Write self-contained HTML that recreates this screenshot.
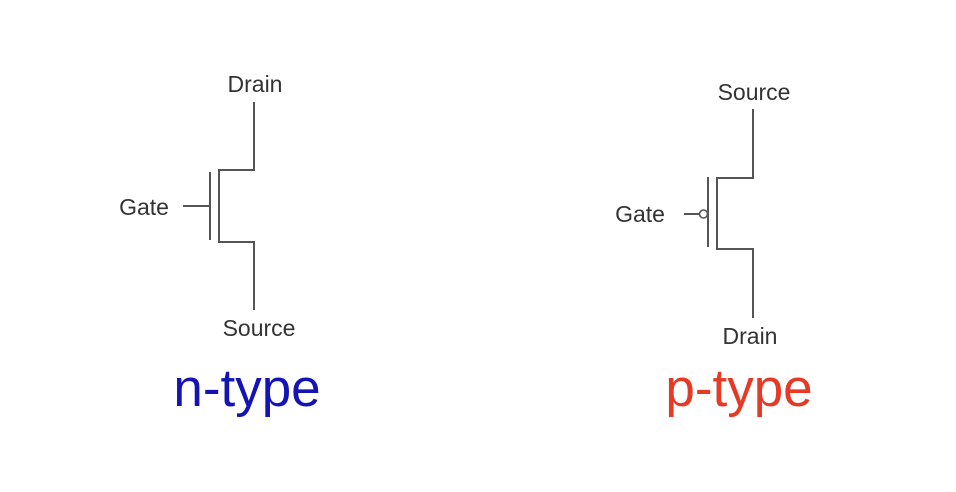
<!DOCTYPE html>
<html><head><style>
html,body{margin:0;padding:0;background:#fff;}
</style></head><body>
<svg width="956" height="492" viewBox="0 0 956 492" xmlns="http://www.w3.org/2000/svg" style="display:block">
<rect width="956" height="492" fill="#fff"/>
<g stroke="#555" stroke-width="2" fill="none">
<polyline points="254,102 254,170 219,170 219,242 254,242 254,310"/>
<line x1="210" y1="172" x2="210" y2="240"/>
<line x1="183" y1="206" x2="210" y2="206"/>
<polyline points="753,109 753,178 717,178 717,249 753,249 753,318"/>
<line x1="708" y1="177" x2="708" y2="247"/>
<line x1="684" y1="214" x2="699" y2="214"/>
<circle cx="703.5" cy="214" r="4" stroke-width="1.6"/>
</g>
<g font-family="Liberation Sans, sans-serif" font-size="23" fill="#333">
<text x="255" y="92" text-anchor="middle">Drain</text>
<text x="144" y="215" text-anchor="middle">Gate</text>
<text x="259" y="336" text-anchor="middle">Source</text>
<text x="754" y="100" text-anchor="middle">Source</text>
<text x="640" y="222" text-anchor="middle">Gate</text>
<text x="750" y="344" text-anchor="middle">Drain</text>
</g>
<text x="247" y="406" text-anchor="middle" font-family="Liberation Sans, sans-serif" font-size="53" fill="#1414b4">n-type</text>
<text x="739" y="406" text-anchor="middle" font-family="Liberation Sans, sans-serif" font-size="53" fill="#e53a25">p-type</text>
</svg>
</body></html>
